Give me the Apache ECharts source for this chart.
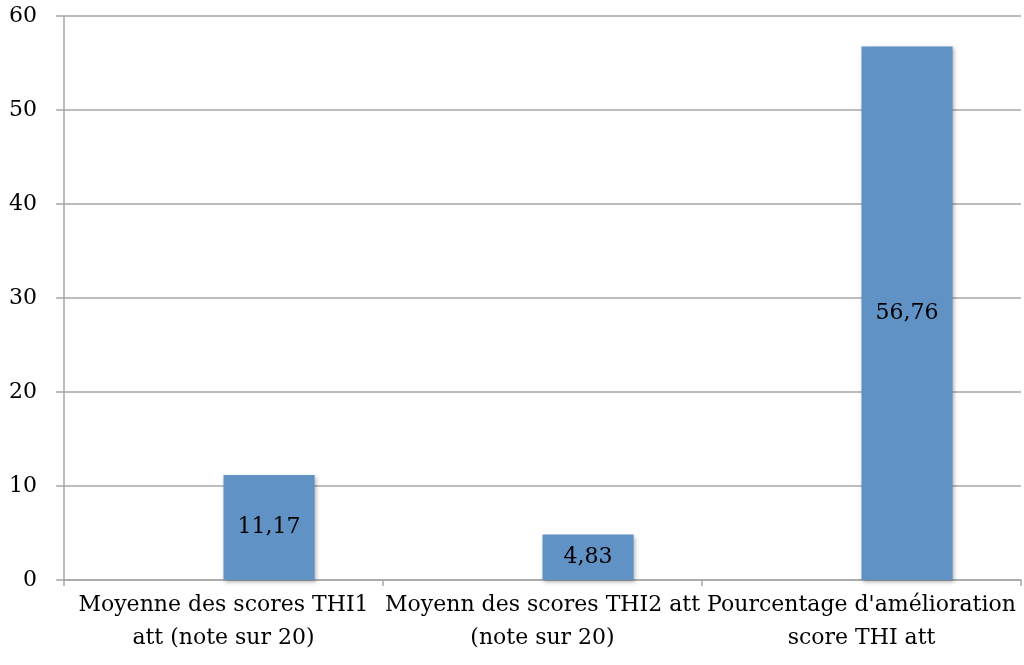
<!DOCTYPE html>
<html>
<head>
<meta charset="utf-8">
<script src="https://cdn.jsdelivr.net/npm/echarts@6/dist/echarts.min.js"></script>
<style>
html,body{margin:0;padding:0;background:#fff;}
#chart{width:1024px;height:665px;}
</style>
</head>
<body>
<div id="chart"></div>
<script>
const categories = [
  "Moyenne des scores THI1\natt (note sur 20)",
  "Moyenn des scores THI2 att\n(note sur 20)",
  "Pourcentage d'amélioration\nscore THI att"
];
const emptySeries = [null, null, null];
const values = [11.17, 4.83, 56.76];
const yTicks = { min: 0, max: 60, interval: 10 };

const FONT = "'DejaVu Serif', 'Liberation Serif', serif";
const chart = echarts.init(document.getElementById('chart'));
chart.setOption({
  animation: false,
  backgroundColor: '#fff',
  grid: { left: 64, right: 3, top: 16, bottom: 85, containLabel: false },
  xAxis: {
    type: 'category',
    data: categories,
    axisLine: { show: true, lineStyle: { color: '#a6a6a6', width: 1.5 } },
    axisTick: { show: true, length: 6, lineStyle: { color: '#a6a6a6', width: 1.5 } },
    axisLabel: { color: '#000', fontFamily: FONT, fontSize: 22, lineHeight: 33, margin: 9, interval: 0 },
    splitLine: { show: false }
  },
  yAxis: {
    type: 'value',
    min: yTicks.min, max: yTicks.max, interval: yTicks.interval,
    axisLine: { show: true, lineStyle: { color: '#a6a6a6', width: 1.5 } },
    axisTick: { show: true, length: 8, lineStyle: { color: '#a6a6a6', width: 1.5 } },
    axisLabel: { color: '#000', fontFamily: FONT, fontSize: 22, margin: 27 },
    splitLine: { show: true, lineStyle: { color: '#a6a6a6', width: 1.5 } }
  },
  series: [
    {
      type: 'bar',
      data: emptySeries,
      barGap: '0%',
      barCategoryGap: '42.86%',
      itemStyle: { color: '#6092c6' }
    },
    {
      type: 'bar',
      data: values,
      barGap: '0%',
      barCategoryGap: '42.86%',
      itemStyle: {
        color: '#6092c6',
        shadowBlur: 4, shadowColor: 'rgba(0,0,0,0.3)', shadowOffsetY: 2, shadowOffsetX: 1
      },
      label: {
        show: true,
        position: 'inside',
        color: '#000',
        fontFamily: FONT,
        fontSize: 22,
        formatter: p => p.value.toFixed(2).replace('.', ',')
      }
    }
  ]
});
</script>
</body>
</html>
